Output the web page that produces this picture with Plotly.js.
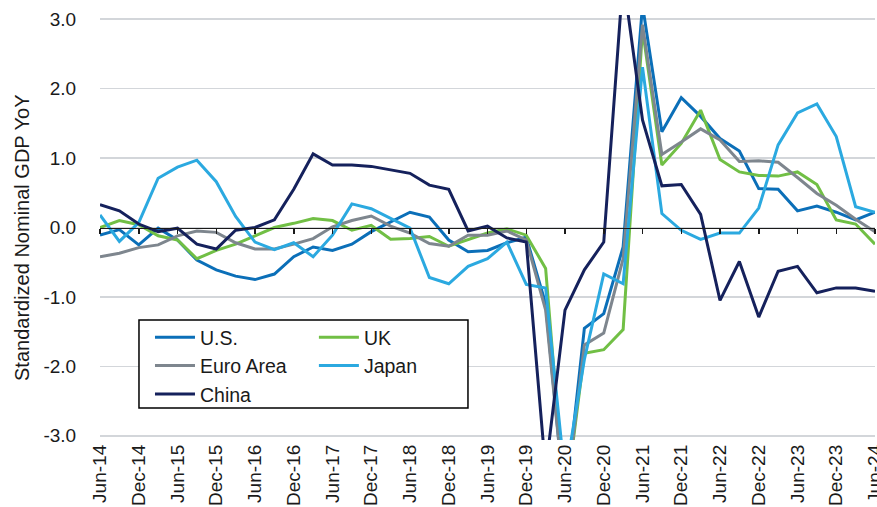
<!DOCTYPE html>
<html><head><meta charset="utf-8">
<script src="https://cdn.plot.ly/plotly-3.0.1.min.js"></script>
<style>html,body{margin:0;padding:0;background:#fff}</style>
</head><body><div id="chart" style="width:877px;height:507px"></div>
<script>
const quarters = ['Jun-14','Sep-14','Dec-14','Mar-15','Jun-15','Sep-15','Dec-15','Mar-16','Jun-16','Sep-16',
  'Dec-16','Mar-17','Jun-17','Sep-17','Dec-17','Mar-18','Jun-18','Sep-18','Dec-18','Mar-19',
  'Jun-19','Sep-19','Dec-19','Mar-20','Jun-20','Sep-20','Dec-20','Mar-21','Jun-21','Sep-21',
  'Dec-21','Mar-22','Jun-22','Sep-22','Dec-22','Mar-23','Jun-23','Sep-23','Dec-23','Mar-24','Jun-24'];
const tickLabels = ['Jun-14','Dec-14','Jun-15','Dec-15','Jun-16','Dec-16','Jun-17','Dec-17','Jun-18','Dec-18',
  'Jun-19','Dec-19','Jun-20','Dec-20','Jun-21','Dec-21','Jun-22','Dec-22','Jun-23','Dec-23','Jun-24'];
const yTicks = [-3, -2, -1, 0, 1, 2, 3];
const yTickText = ['-3.0', '-2.0', '-1.0', '0.0', '1.0', '2.0', '3.0'];
const yTitle = 'Standardized Nominal GDP YoY';

const usValues = [-0.11,-0.03,-0.25,-0.01,-0.18,-0.47,-0.61,-0.70,-0.75,-0.67,
  -0.42,-0.28,-0.33,-0.24,-0.06,0.08,0.22,0.15,-0.18,-0.35,
  -0.33,-0.22,-0.14,-1.10,-4.0,-1.45,-1.24,-0.28,3.2,1.38,
  1.87,1.60,1.28,1.10,0.56,0.55,0.24,0.31,0.22,0.11,0.22];
const ukValues = [0.00,0.10,0.04,-0.12,-0.18,-0.45,-0.33,-0.24,-0.12,0.00,
  0.06,0.13,0.10,-0.04,0.03,-0.17,-0.16,-0.13,-0.27,-0.17,
  -0.08,-0.02,-0.11,-0.59,-4.0,-1.81,-1.76,-1.47,2.85,0.90,
  1.21,1.69,0.98,0.80,0.75,0.74,0.80,0.62,0.11,0.05,-0.24];
const euroValues = [-0.42,-0.37,-0.29,-0.25,-0.12,-0.05,-0.07,-0.22,-0.31,-0.31,
  -0.24,-0.16,0.01,0.10,0.165,0.02,-0.08,-0.23,-0.27,-0.11,
  -0.11,-0.05,-0.18,-1.19,-4.0,-1.69,-1.52,-0.45,2.92,1.05,
  1.23,1.42,1.26,0.95,0.96,0.94,0.72,0.49,0.32,0.12,-0.06];
const japanValues = [0.18,-0.20,0.07,0.71,0.87,0.97,0.66,0.16,-0.21,-0.32,
  -0.22,-0.42,-0.11,0.34,0.27,0.13,-0.01,-0.72,-0.81,-0.56,
  -0.45,-0.21,-0.82,-0.87,-3.6,-1.9,-0.67,-0.81,2.31,0.20,
  -0.04,-0.17,-0.08,-0.08,0.28,1.19,1.65,1.78,1.31,0.30,0.22];
const chinaValues = [0.33,0.24,0.05,-0.06,-0.01,-0.24,-0.31,-0.04,0.00,0.11,
  0.55,1.06,0.90,0.90,0.88,0.83,0.78,0.61,0.55,-0.05,
  0.02,-0.15,-0.21,-3.5,-1.19,-0.61,-0.21,3.6,1.55,0.60,
  0.62,0.19,-1.05,-0.49,-1.29,-0.63,-0.56,-0.94,-0.87,-0.87,-0.92];

const FONT = '"Liberation Sans", Arial, Helvetica, sans-serif';
const TXT = '#1a1a1a';

function series(name, y, color, legend) {
  return {type: 'scatter', mode: 'lines', name: name, x: quarters, y: y,
    line: {color: color, width: 3}, legend: legend, legendgroup: name, hoverinfo: 'skip'};
}

const traces = [
  series('U.S.', usValues, '#0B6FB8', 'legend'),
  series('UK', ukValues, '#71BF45', 'legend2'),
  series('Euro Area', euroValues, '#7E868E', 'legend'),
  series('Japan', japanValues, '#2BA9E0', 'legend2'),
  series('China', chinaValues, '#15215C', 'legend'),
  {type: 'scatter', mode: 'lines', x: quarters, y: quarters.map(() => null), xaxis: 'x2', yaxis: 'y',
   showlegend: false, hoverinfo: 'skip'}
];

const legendBase = {
  xref: 'paper', yref: 'paper', xanchor: 'left', yanchor: 'top', orientation: 'v',
  bgcolor: 'rgba(0,0,0,0)', borderwidth: 0, font: {family: FONT, size: 19.5, color: TXT},
  traceorder: 'grouped', tracegroupgap: 0, itemwidth: 40
};

const layout = {
  width: 877, height: 507,
  margin: {l: 100, r: 2, t: 15, b: 67},
  paper_bgcolor: '#ffffff', plot_bgcolor: '#ffffff',
  font: {family: FONT, color: TXT},
  showlegend: true,
  xaxis: {type: 'category', range: [0, quarters.length - 1], tickmode: 'array',
    tickvals: tickLabels, ticktext: tickLabels, tickangle: -90,
    tickfont: {size: 19, color: TXT}, showgrid: false, zeroline: false, showline: false, ticks: ''},
  xaxis2: {type: 'category', overlaying: 'x', anchor: 'free', position: 0.5,
    range: [0, quarters.length - 1], tickmode: 'array', tickvals: tickLabels,
    ticks: 'outside', ticklen: 5, tickwidth: 1.5, tickcolor: TXT, showticklabels: false,
    showline: true, linecolor: TXT, linewidth: 1.5, showgrid: false, zeroline: false},
  yaxis: {range: [-3.06, 3.06], tickmode: 'array', tickvals: yTicks, ticktext: yTickText,
    tickfont: {size: 19, color: TXT}, gridcolor: '#D3D6DA', gridwidth: 1.5,
    zeroline: false, showline: false, ticks: 'outside', ticklen: 19, tickcolor: 'rgba(0,0,0,0)'},
  annotations: [{text: yTitle, textangle: -90, xref: 'paper', yref: 'paper',
    x: (22 - 100) / 775, y: (440 - 238) / 425, xanchor: 'center', yanchor: 'middle',
    showarrow: false, font: {family: FONT, size: 20, color: TXT}}],
  legend: Object.assign({}, legendBase, {x: 0.0645, y: 0.287}),
  legend2: Object.assign({}, legendBase, {x: 0.276, y: 0.287}),
  shapes: [{type: 'rect', xref: 'paper', yref: 'paper', x0: 0.0503, x1: 0.4748, y0: 0.0753, y1: 0.2824,
    line: {color: '#000000', width: 1.5}, fillcolor: '#ffffff', layer: 'above'}]
};

Plotly.newPlot('chart', traces, layout, {staticPlot: true, displayModeBar: false});
</script>
</body></html>
